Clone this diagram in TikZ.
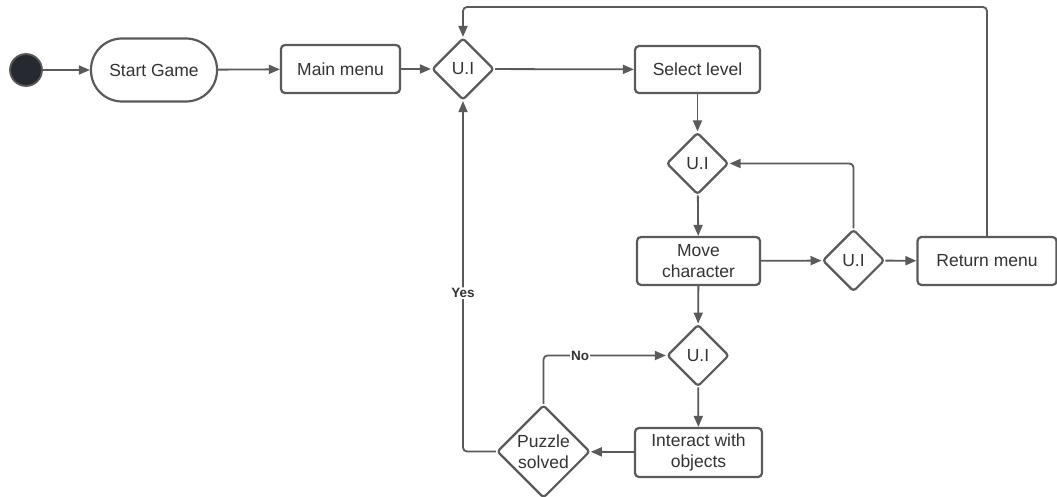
\documentclass[tikz,border=0pt]{standalone}
\usepackage{fontspec}
\setmainfont{Liberation Sans}
\usetikzlibrary{shapes.geometric,arrows.meta}
\definecolor{ln}{HTML}{5A5A5A}
\definecolor{tx}{HTML}{333333}
\definecolor{dk}{HTML}{262A30}
\begin{document}
\begin{tikzpicture}[x=1pt,y=-1pt,
 box/.style={draw=ln,line width=2.2pt,rounded corners=4pt,fill=white,text=tx,font=\fontsize{17.5}{21}\selectfont,align=center,inner sep=0pt},
 dec/.style={diamond,draw=ln,line width=2.2pt,rounded corners=3pt,fill=white,text=tx,font=\fontsize{17.5}{21}\selectfont,align=center,inner sep=0pt,aspect=1,minimum width=62pt,minimum height=62pt},
 conn/.style={draw=ln,line width=1.8pt,-{Triangle[length=11pt,width=9pt]},rounded corners=4pt},
 lbl/.style={fill=white,text=tx,font=\bfseries\fontsize{13.5}{15}\selectfont,inner sep=1pt}]
\useasboundingbox[fill=white] (0,0) rectangle (1057,497);
\node[circle,minimum size=32pt,inner sep=0pt,fill=dk,draw=ln,line width=1.8pt] (s) at (26,70) {};
\node[box,rounded corners=31pt,minimum width=126pt,minimum height=63pt] (sg) at (154,70) {Start Game};
\node[box,minimum width=119pt,minimum height=48pt] (mm) at (340.5,69) {Main menu};
\node[dec] (u1) at (463,69) {U.I};
\node[box,minimum width=125pt,minimum height=47pt] (sl) at (697.5,69.5) {Select level};
\node[dec] (u2) at (697.5,163.5) {U.I};
\node[box,minimum width=123pt,minimum height=48pt] (mc) at (698.5,261) {Move\\character};
\node[dec] (u3) at (853.5,260.5) {U.I};
\node[box,minimum width=139pt,minimum height=48pt] (rm) at (987,261) {Return menu};
\node[dec] (u4) at (698,355.5) {U.I};
\node[box,minimum width=127pt,minimum height=49pt] (io) at (698.5,452.5) {Interact with\\objects};
\node[dec,minimum width=93pt,minimum height=93pt] (ps) at (543.5,451.5) {Puzzle\\solved};
\coordinate (t) at (463,7);
\draw[conn] (s) -- (sg);
\draw[conn] (sg) -- (mm);
\draw[conn] (mm) -- (u1);
\draw[conn] (u1) -- (sl);
\draw[conn] (sl) -- (u2);
\draw[conn] (u2) -- (mc);
\draw[conn] (mc) -- (u3);
\draw[conn] (u3) -- (rm);
\draw[conn] (u3.north) |- (u2.east);
\draw[conn] (rm.north) |- (t) -- (u1.north);
\draw[conn] (mc) -- (u4);
\draw[conn] (u4) -- (io);
\draw[conn] (io) -- (ps);
\draw[conn] (ps.west) -| node[lbl,pos=0.726] {Yes} (u1.south);
\draw[conn] (ps.north) |- node[lbl,pos=0.65] {No} (u4.west);
\end{tikzpicture}
\end{document}
